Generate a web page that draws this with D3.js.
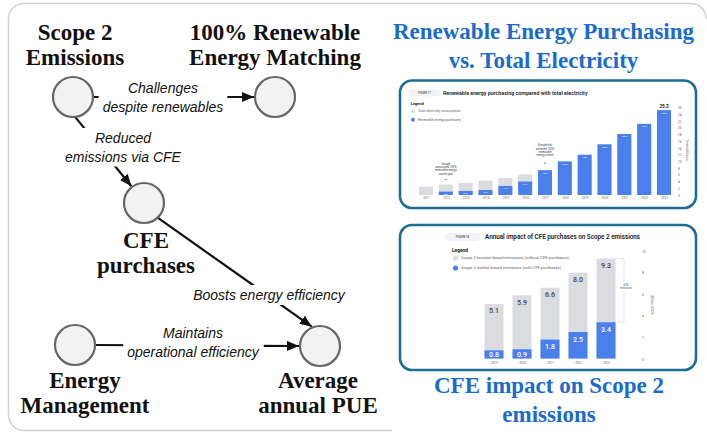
<!DOCTYPE html>
<html><head><meta charset="utf-8">
<script src="https://cdn.jsdelivr.net/npm/d3@7"></script>
<style>body{margin:0;background:#fff}svg{display:block}</style>
</head><body><svg id="c" width="707" height="434"></svg>
<script>
// ---------------- Diagram data ----------------
const nodeLabelLines = [["Scope 2","Emissions"],["100% Renewable","Energy Matching"],["CFE","purchases"],["Energy","Management"],["Average","annual PUE"]];
const edgeSources = [0,0,2,3];
const edgeTargets = [1,2,4,4];
const edgeLabels = [["Challenges","despite renewables"],["Reduced","emissions via CFE"],["Boosts energy efficiency"],["Maintains","operational efficiency"]];

// ---------------- Figure 17 data ----------------
const years17 = ["2011","2012","2013","2014","2015","2016","2017","2018","2019","2020","2021","2022","2023"];
const totalTWh = [2.5,3.1,3.6,4.3,5.1,6.1,7.4,10.0,12.0,15.1,18.2,21.2,25.3];
const renewTWh = [0,1.0,1.2,1.5,2.7,4.0,7.4,10.0,12.0,15.1,18.2,21.2,25.3];
const renewPct = ["","32%","33%","37%","44%","61%","100%","100%","100%","100%","100%","100%","100%"];
const ticks17 = [0,2,4,6,8,10,12,14,16,18,20,22,24,26];
const notes17 = [["2012",["Google","announced 100%","renewable energy","match goal"]],["2017",["Google first","achieved 100%","renewable","energy match"]]];

// ---------------- Figure 18 data ----------------
const years18 = ["2019","2020","2021","2022","2023"];
const locationBased = [5.1,5.9,6.6,8.0,9.3];
const marketBased = [0.8,0.9,1.8,2.5,3.4];
const ticks18 = [0,2,4,6,8,10];

// ---------------- Layout (positions) ----------------
const nodeX = [73,275,144,75,320], nodeY = [97,97,203,345,346], R = 20;
const nodeLabelX = [75,275,146,85,318], nodeLabelY = [40,40,248,388,388];
const startAng = [0,84,47,0], endAng = [180,233,247,180];
const edgeLabelX = [163,123,269,193], edgeLabelY = [93,143,300,338];

const GRAY = "#dadce0", BLUE = "#4a80ec", TEAL = "#1b6f93", TITLE = "#1a6bcc";
const svg = d3.select("#c");

// outer panel border
svg.append("path")
  .attr("d","M392,430.5 H24 A15.5 15.5 0 0 1 8.5,415 V19 A15.5 15.5 0 0 1 24,3.5 H691 A15 15 0 0 1 706,18.5")
  .attr("fill","none").attr("stroke","#d2d2d2").attr("stroke-width",1.6);

// arrow marker
svg.append("defs").append("marker").attr("id","arr")
  .attr("markerUnits","userSpaceOnUse").attr("markerWidth",14).attr("markerHeight",12)
  .attr("refX",12).attr("refY",5).attr("orient","auto")
  .append("path").attr("d","M0,0 L12,5 L0,10 Z").attr("fill","#111");

const rad = a => a*Math.PI/180;
const gEdges = svg.append("g");
edgeSources.forEach((s,i)=>{
  const t = edgeTargets[i];
  gEdges.append("line")
    .attr("x1", nodeX[s]+R*Math.cos(rad(startAng[i]))).attr("y1", nodeY[s]+R*Math.sin(rad(startAng[i])))
    .attr("x2", nodeX[t]+(R+1)*Math.cos(rad(endAng[i]))).attr("y2", nodeY[t]+(R+1)*Math.sin(rad(endAng[i])))
    .attr("stroke","#111").attr("stroke-width",2.2).attr("marker-end","url(#arr)");
});
// edge labels with white backing
edgeLabels.forEach((lines,i)=>{
  const g = svg.append("g");
  const bg = g.append("rect").attr("fill","#fff");
  const tx = g.append("text").attr("text-anchor","middle")
    .attr("font-family","'Liberation Sans', Arial, sans-serif").attr("font-style","italic")
    .attr("font-size",14).attr("fill","#111");
  lines.forEach((l,j)=>tx.append("tspan").attr("x",edgeLabelX[i]).attr("y",edgeLabelY[i]+j*18.5).text(l));
  const b = tx.node().getBBox();
  bg.attr("x",b.x-4).attr("y",b.y-2).attr("width",b.width+8).attr("height",b.height+4);
});
// nodes
nodeX.forEach((x,i)=>{
  svg.append("circle").attr("cx",x).attr("cy",nodeY[i]).attr("r",R)
    .attr("fill","#f2f2f2").attr("stroke","#666").attr("stroke-width",2.2);
  const tx = svg.append("text").attr("text-anchor","middle")
    .attr("font-family","'Liberation Serif','Times New Roman',serif").attr("font-weight","bold")
    .attr("font-size",23).attr("fill","#111");
  nodeLabelLines[i].forEach((l,j)=>tx.append("tspan").attr("x",nodeLabelX[i]).attr("y",nodeLabelY[i]+j*25).text(l));
});

// right titles
function title(lines,x,y){
  const tx = svg.append("text").attr("text-anchor","middle")
    .attr("font-family","'Liberation Serif','Times New Roman',serif").attr("font-weight","bold")
    .attr("font-size",23).attr("fill",TITLE);
  lines.forEach((l,j)=>tx.append("tspan").attr("x",x).attr("y",y+j*28.5).text(l));
}
title(["Renewable Energy Purchasing","vs. Total Electricity"],543.5,39);
title(["CFE impact on Scope 2","emissions"],549,393);

const SANS = "Roboto, 'Open Sans', Arial, sans-serif";
function card(x,y,w,h){
  svg.append("rect").attr("x",x).attr("y",y).attr("width",w).attr("height",h).attr("rx",12)
    .attr("fill","#fff").attr("stroke",TEAL).attr("stroke-width",2.6);
}
function pill(x,y,w,h,label,fs){
  svg.append("rect").attr("x",x).attr("y",y).attr("width",w).attr("height",h).attr("rx",h/2).attr("fill","#f1f3f4");
  svg.append("text").attr("x",x+w/2).attr("y",y+h/2+fs*0.35).attr("text-anchor","middle")
    .attr("font-family",SANS).attr("font-size",fs).attr("font-weight",600).attr("fill","#5f6368").text(label);
}
function txt(x,y,s,fs,opt={}){
  return svg.append("text").attr("x",x).attr("y",y).attr("font-family",SANS).attr("font-size",fs)
    .attr("fill",opt.fill||"#5f6368").attr("font-weight",opt.weight||400)
    .attr("text-anchor",opt.anchor||"start").text(s);
}

// ---------------- Figure 17 card ----------------
card(400,80.5,296,127.5);
pill(409,89.5,31,7,"FIGURE 17",2.6);
txt(443,95.3,"Renewable energy purchasing compared with total electricity",5.3,{fill:"#202124",weight:600});
txt(410.5,104.5,"Legend",4,{fill:"#202124",weight:700});
svg.append("circle").attr("cx",413).attr("cy",111.2).attr("r",2).attr("fill",GRAY);
txt(418,112.4,"Total electricity consumption",3.3);
svg.append("circle").attr("cx",413).attr("cy",119.8).attr("r",2).attr("fill",BLUE);
txt(418,121,"Renewable energy purchases",3.3);

const x17 = d3.scalePoint().domain(years17).range([426,664]);
const y17 = d3.scaleLinear().domain([0,26]).range([195,107.8]);
const bw17 = 14;
svg.append("g").selectAll("rect").data(years17).join("rect")
  .attr("x",d=>x17(d)-bw17/2).attr("width",bw17)
  .attr("y",(d,i)=>y17(totalTWh[i])).attr("height",(d,i)=>y17(0)-y17(totalTWh[i])).attr("fill",GRAY);
svg.append("g").selectAll("rect").data(years17).join("rect")
  .attr("x",d=>x17(d)-bw17/2).attr("width",bw17)
  .attr("y",(d,i)=>y17(renewTWh[i])).attr("height",(d,i)=>y17(0)-y17(renewTWh[i])).attr("fill",BLUE);
svg.append("g").selectAll("text").data(years17).join("text")
  .attr("x",d=>x17(d)).attr("y",(d,i)=>y17(renewTWh[i])+3.5).attr("text-anchor","middle")
  .attr("font-family",SANS).attr("font-size",2.3).attr("fill","#fff").text((d,i)=>renewPct[i]);
txt(x17("2023"),y17(25.3)-2.5,"25.3",4.6,{fill:"#202124",weight:700,anchor:"middle"});
notes17.forEach(([yr,lines])=>{
  const i = years17.indexOf(yr);
  const top = y17(totalTWh[i]);
  lines.forEach((l,j)=>txt(x17(yr),top-20+j*3.4-(i===6?4:0),l,2.8,{fill:"#3c4043",anchor:"middle"}));
  svg.append("rect").attr("x",x17(yr)-1).attr("y",top-5.5-(i===6?2:0)).attr("width",2).attr("height",1).attr("fill",BLUE);
});
const ax17 = svg.append("g").attr("transform","translate(678,0)")
  .call(d3.axisRight(y17).tickValues(ticks17).tickSize(0).tickPadding(0));
ax17.select(".domain").remove();
ax17.selectAll("text").attr("font-size",3.2).attr("fill","#5f6368").attr("font-family",SANS);
const bx17 = svg.append("g").attr("transform","translate(0,196)")
  .call(d3.axisBottom(x17).tickSize(0).tickPadding(1));
bx17.select(".domain").remove();
bx17.selectAll("text").attr("font-size",3).attr("fill","#5f6368").attr("font-family",SANS);
svg.append("text").attr("transform","translate(686,150) rotate(90)").attr("text-anchor","middle")
  .attr("font-family",SANS).attr("font-size",3.2).attr("fill","#5f6368").text("Terawatt-hours");

// ---------------- Figure 18 card ----------------
card(400,225,296,145);
pill(445,233,35,8,"FIGURE 18",2.8);
txt(485,239.3,"Annual impact of CFE purchases on Scope 2 emissions",6.3,{fill:"#202124",weight:600});
txt(452,252,"Legend",4.8,{fill:"#202124",weight:700});
svg.append("circle").attr("cx",455.5).attr("cy",258).attr("r",2.6).attr("fill",GRAY);
txt(461,259.4,"Scope 2 location-based emissions (without CFE purchases)",4.1);
svg.append("circle").attr("cx",455.5).attr("cy",268).attr("r",2.6).attr("fill",BLUE);
txt(461,269.4,"Scope 2 market-based emissions (with CFE purchases)",4.1);

const x18 = d3.scalePoint().domain(years18).range([494,606]);
const y18 = d3.scaleLinear().domain([0,10]).range([359,251]);
const bw18 = 19;
svg.append("g").selectAll("rect").data(years18).join("rect")
  .attr("x",d=>x18(d)-bw18/2).attr("width",bw18)
  .attr("y",(d,i)=>y18(locationBased[i])).attr("height",(d,i)=>y18(0)-y18(locationBased[i])).attr("fill",GRAY);
svg.append("g").selectAll("rect").data(years18).join("rect")
  .attr("x",d=>x18(d)-bw18/2).attr("width",bw18)
  .attr("y",(d,i)=>y18(marketBased[i])).attr("height",(d,i)=>y18(0)-y18(marketBased[i])-0.5).attr("fill",BLUE);
svg.append("g").selectAll("text").data(years18).join("text")
  .attr("x",d=>x18(d)).attr("y",(d,i)=>y18(locationBased[i])+9.5).attr("text-anchor","middle")
  .attr("font-family",SANS).attr("font-size",7).attr("font-weight",500).attr("fill","#3c4043")
  .text((d,i)=>locationBased[i].toFixed(1));
svg.append("g").selectAll("text").data(years18).join("text")
  .attr("x",d=>x18(d)).attr("y",(d,i)=>Math.min(y18(marketBased[i])+9.5,(y18(marketBased[i])+y18(0))/2+2.6))
  .attr("text-anchor","middle")
  .attr("font-family",SANS).attr("font-size",7).attr("font-weight",500).attr("fill","#fff")
  .text((d,i)=>marketBased[i].toFixed(1));
// reduction bracket on last year
{
  const i = years18.length-1, bx = 624, t = y18(locationBased[i]), b = y18(marketBased[i]);
  svg.append("path").attr("d",`M${bx-7},${t} H${bx} V${b} H${bx-7}`).attr("fill","none").attr("stroke","#dadce0").attr("stroke-width",0.8);
  svg.append("rect").attr("x",bx-5).attr("y",282).attr("width",14).attr("height",9).attr("fill","#fff");
  const pct = Math.round((1-marketBased[i]/locationBased[i])*100);
  txt(bx+2,285.5,pct+"%",2.8,{anchor:"middle"});
  txt(bx+2,289,"reduction",2.8,{anchor:"middle"});
}
const ax18 = svg.append("g").attr("transform","translate(642,0)")
  .call(d3.axisRight(y18).tickValues(ticks18).tickSize(0).tickPadding(0));
ax18.select(".domain").remove();
ax18.selectAll("text").attr("font-size",3.2).attr("fill","#5f6368").attr("font-family",SANS);
const bx18 = svg.append("g").attr("transform","translate(0,361)")
  .call(d3.axisBottom(x18).tickSize(0).tickPadding(1));
bx18.select(".domain").remove();
bx18.selectAll("text").attr("font-size",3).attr("fill","#5f6368").attr("font-family",SANS);
svg.append("text").attr("transform","translate(651,305) rotate(90)").attr("text-anchor","middle")
  .attr("font-family",SANS).attr("font-size",3.2).attr("fill","#5f6368").text("Million tCO2e");
</script>
</body></html>
